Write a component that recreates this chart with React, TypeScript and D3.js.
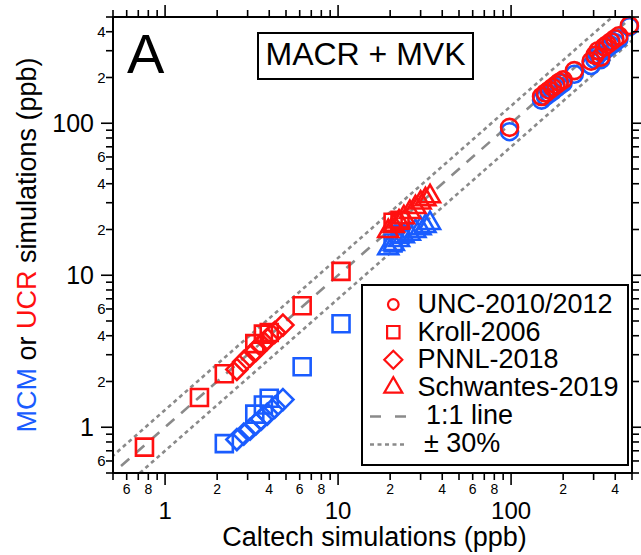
import React from 'react';
import * as d3 from 'd3';

// ---------- data (Caltech x, MCM y, UCR y) ----------
const uncCaltech = [98, 150, 158, 166, 174, 182, 190, 200, 232, 290, 305, 318, 330, 345, 360, 378, 398, 420, 483];
const uncMCM = [88, 142, 150, 156, 162, 170, 176, 184, 210, 240, 262, 282, 262, 300, 312, 326, 340, 358, 432];
const uncUCR = [94, 150, 158, 165, 172, 179, 186, 193, 222, 256, 280, 300, 272, 318, 330, 344, 360, 376, 440];

const krollCaltech = [0.76, 1.58, 2.2, 3.3, 3.7, 4.0, 6.2, 10.4, 20.8, 22.8];
const krollMCM = [null, null, 0.78, 1.22, 1.4, 1.55, 2.5, 4.8, 16.3, 18.6];
const krollUCR = [0.74, 1.57, 2.25, 3.55, 4.1, 4.2, 6.3, 10.6, 22.3, 23.0];

const pnnlCaltech = [2.6, 2.85, 3.1, 3.35, 3.6, 3.9, 4.3, 4.8];
const pnnlMCM = [0.83, 0.9, 0.97, 1.05, 1.13, 1.22, 1.35, 1.52];
const pnnlUCR = [2.4, 2.7, 2.95, 3.2, 3.5, 3.8, 4.2, 4.7];

const schwCaltech = [19.5, 21, 22.5, 24, 26, 28, 30, 32, 34];
const schwMCM = [15, 16, 17, 18, 18.7, 19.5, 20.3, 21, 22];
const schwUCR = [19.5, 21, 22.5, 24, 26, 28, 30, 31.5, 33];

const legendLabels = ['UNC-2010/2012', 'Kroll-2006', 'PNNL-2018', 'Schwantes-2019'];
const lineLabels = ['1:1 line', '± 30%'];
const majorTicks = [1, 10, 100];
const xLabelDigits = [2, 4, 6, 8];
const yLabelDigits = [2, 4, 6];
const domain = [0.5, 500];
const bandFactors = [1.3, 0.7];

const RED = '#ff1010';
const BLUE = '#1a5cff';
const GRAY = '#8a8a8a';
const FONT = '"Liberation Sans", Arial, Helvetica, sans-serif';

type Shape = 'circle' | 'square' | 'diamond' | 'triangle';

function shapePath(shape: Shape, cx: number, cy: number, s: number): string {
  if (shape === 'circle') {
    return `M${cx - s},${cy}a${s},${s} 0 1,0 ${2 * s},0a${s},${s} 0 1,0 ${-2 * s},0Z`;
  }
  if (shape === 'square') {
    return `M${cx - s},${cy - s}h${2 * s}v${2 * s}h${-2 * s}Z`;
  }
  if (shape === 'diamond') {
    return `M${cx},${cy - s}L${cx + s},${cy}L${cx},${cy + s}L${cx - s},${cy}Z`;
  }
  const h = s * Math.sqrt(3);
  return `M${cx},${cy - (2 * h) / 3}L${cx + s},${cy + h / 3}L${cx - s},${cy + h / 3}Z`;
}

export default function App() {
  const W = 641;
  const H = 555;
  const L = 113, R = 632, T = 17, B = 473;
  const x = d3.scaleLog().domain(domain).range([L, R]);
  const y = d3.scaleLog().domain(domain).range([B, T]);

  const ticks: number[] = [];
  for (let k = -1; k <= 2; k++) {
    for (let d = 1; d <= 9; d++) {
      const v = +(d * Math.pow(10, k)).toPrecision(3);
      if (v >= domain[0] - 1e-9 && v <= domain[1] + 1e-9) ticks.push(v);
    }
  }
  const isMajor = (v: number) => majorTicks.includes(v);
  const lead = (v: number) => Math.round(v / Math.pow(10, Math.floor(Math.log10(v) + 1e-9)));

  const series: { shape: Shape; xs: number[]; mcm: (number | null)[]; ucr: number[]; size: number }[] = [
    { shape: 'circle', xs: uncCaltech, mcm: uncMCM, ucr: uncUCR, size: 8.5 },
    { shape: 'square', xs: krollCaltech, mcm: krollMCM, ucr: krollUCR, size: 8.5 },
    { shape: 'diamond', xs: pnnlCaltech, mcm: pnnlMCM, ucr: pnnlUCR, size: 10.5 },
    { shape: 'triangle', xs: schwCaltech, mcm: schwMCM, ucr: schwUCR, size: 10 },
  ];

  const line = d3.line<number>().x((v) => x(v)).y((v) => y(v));
  const lineData = [domain[0] / 2, domain[1] * 2];

  const legendSizes = [5.3, 6.2, 9, 9];
  const legendShapes: Shape[] = ['circle', 'square', 'diamond', 'triangle'];
  const rowY = [313, 340.7, 368.3, 396, 423.5, 451.5];

  return (
    <svg width={W} height={H} style={{ position: 'absolute', left: 0, top: 0, background: '#fff' }} fontFamily={FONT}>
      <defs>
        <clipPath id="plotclip">
          <rect x={L} y={T} width={R - L} height={B - T} />
        </clipPath>
      </defs>
      <rect x={0} y={0} width={W} height={H} fill="#fff" />

      {/* reference lines */}
      <g clipPath="url(#plotclip)" fill="none" stroke={GRAY} strokeWidth={2.6}>
        <path d={line(lineData) || ''} strokeDasharray="11,9" />
        {bandFactors.map((f) => (
          <path
            key={f}
            d={d3.line<number>().x((v) => x(v)).y((v) => y(v * f))(lineData) || ''}
            strokeDasharray="4,3.5"
          />
        ))}
      </g>

      {/* markers: MCM (blue) then UCR (red) */}
      <g fill="none" strokeWidth={2.6}>
        {series.map((s, si) =>
          s.xs.map((xv, i) =>
            s.mcm[i] == null ? null : (
              <path key={`b${si}-${i}`} d={shapePath(s.shape, x(xv), y(s.mcm[i] as number), s.size)} stroke={BLUE} />
            )
          )
        )}
        {series.map((s, si) =>
          s.xs.map((xv, i) => (
            <path key={`r${si}-${i}`} d={shapePath(s.shape, x(xv), y(s.ucr[i]), s.size)} stroke={RED} />
          ))
        )}
      </g>

      {/* frame */}
      <rect x={L} y={T} width={R - L} height={B - T} fill="none" stroke="#000" strokeWidth={2} />

      {/* ticks */}
      <g stroke="#000" strokeWidth={1.6}>
        {ticks.map((v) => {
          const len = isMajor(v) ? 12 : 7;
          const px = x(v);
          const py = y(v);
          return (
            <g key={`t${v}`}>
              <line x1={px} x2={px} y1={B} y2={B + len} />
              <line x1={px} x2={px} y1={T} y2={T - len} />
              <line x1={L} x2={L - len} y1={py} y2={py} />
              <line x1={R} x2={R + len} y1={py} y2={py} />
            </g>
          );
        })}
      </g>

      {/* x tick labels */}
      <g fill="#000">
        {ticks.map((v) =>
          isMajor(v) ? (
            <text key={`xl${v}`} x={x(v)} y={519} fontSize={24} textAnchor="middle">
              {v}
            </text>
          ) : xLabelDigits.includes(lead(v)) ? (
            <text key={`xl${v}`} x={x(v)} y={494} fontSize={14} textAnchor="middle">
              {lead(v)}
            </text>
          ) : null
        )}
      </g>

      {/* y tick labels */}
      <g fill="#000">
        {ticks.map((v) =>
          isMajor(v) ? (
            <text key={`yl${v}`} x={94} y={y(v)} dy="0.36em" fontSize={25} textAnchor="end">
              {v}
            </text>
          ) : yLabelDigits.includes(lead(v)) ? (
            <text key={`yl${v}`} x={105.5} y={y(v)} dy="0.36em" fontSize={15} textAnchor="end">
              {lead(v)}
            </text>
          ) : null
        )}
      </g>

      {/* axis titles */}
      <text x={(L + R) / 2 + 2} y={546} fontSize={27} textAnchor="middle" fill="#000">
        Caltech simulations (ppb)
      </text>
      <text transform={`translate(36,${(T + B) / 2}) rotate(-90)`} fontSize={27} textAnchor="middle" fill="#000">
        <tspan fill={BLUE}>MCM</tspan>
        <tspan> or </tspan>
        <tspan fill={RED}>UCR</tspan>
        <tspan> simulations (ppb)</tspan>
      </text>

      {/* panel letter */}
      <text x={127} y={73} fontSize={56} fill="#000">
        A
      </text>

      {/* title box */}
      <rect x={258} y={33} width={215} height={46} fill="#fff" stroke="#000" strokeWidth={2} />
      <text x={365.5} y={65} fontSize={32} textAnchor="middle" fill="#000">
        MACR + MVK
      </text>

      {/* legend */}
      <rect x={362} y={285} width={266} height={180} fill="#fff" stroke="#000" strokeWidth={2} />
      {legendLabels.map((lab, i) => (
        <g key={lab}>
          <path d={shapePath(legendShapes[i], 393.3, rowY[i] - 8.5, legendSizes[i])} fill="none" stroke={RED} strokeWidth={2.2} />
          <text x={417.5} y={rowY[i]} fontSize={27} fill="#000">
            {lab}
          </text>
        </g>
      ))}
      <line x1={370} x2={407} y1={rowY[4] - 7} y2={rowY[4] - 7} stroke={GRAY} strokeWidth={2.6} strokeDasharray="11,14" />
      <text x={426} y={rowY[4]} fontSize={27} fill="#000">
        {lineLabels[0]}
      </text>
      <line x1={370} x2={407} y1={rowY[5] - 7} y2={rowY[5] - 7} stroke={GRAY} strokeWidth={2.6} strokeDasharray="4,3.5" />
      <text x={424} y={rowY[5]} fontSize={27} fill="#000">
        {lineLabels[1]}
      </text>
    </svg>
  );
}
